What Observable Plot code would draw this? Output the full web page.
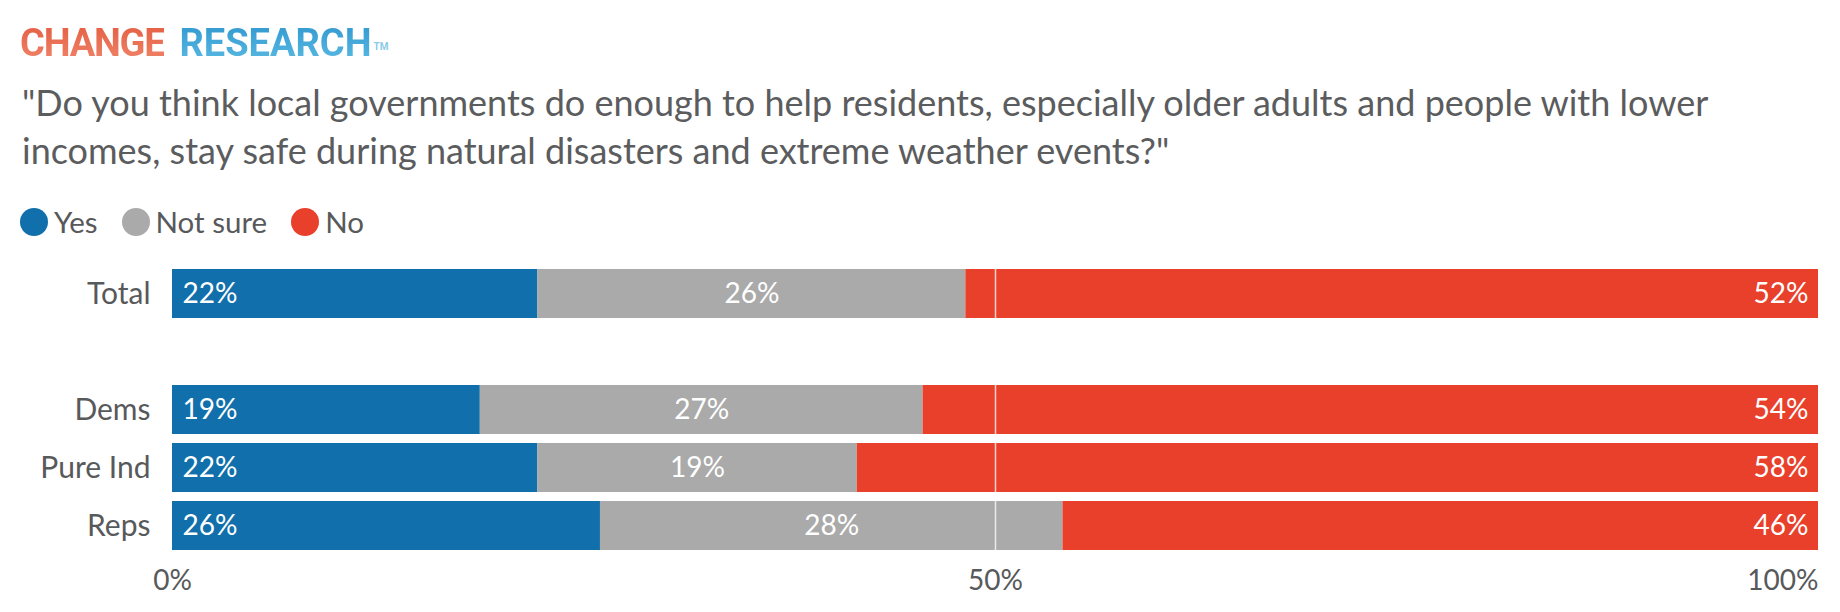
<!DOCTYPE html>
<html>
<head>
<meta charset="utf-8">
<script src="https://cdn.jsdelivr.net/npm/d3@7"></script>
<script src="https://cdn.jsdelivr.net/npm/@observablehq/plot@0.6"></script>
<style>
  html, body { margin: 0; padding: 0; background: #fff; }
  body { width: 1840px; height: 612px; position: relative; overflow: hidden; font-family: Lato, "Open Sans", sans-serif; color: #58595b; }
  #logo { position: absolute; left: 20px; top: 21px; font-family: Roboto, sans-serif; font-weight: 700; font-size: 38px; line-height: 44px; white-space: nowrap; }
  #logo .c { background: linear-gradient(#e45c40, #f0876c); -webkit-background-clip: text; background-clip: text; color: transparent; letter-spacing: -1.2px; }
  #logo .r { background: linear-gradient(#2f97cf, #5cbbe3); -webkit-background-clip: text; background-clip: text; color: transparent; margin-left: 15px; letter-spacing: 0px; }
  #logo sup { font-size: 10px; color: #8ccbe8; vertical-align: top; position: relative; top: 4px; left: 2px; letter-spacing: 0; }
  #title { position: absolute; left: 22px; top: 78px; font-size: 36px; line-height: 48px; color: #5b5c5e; }
  #legend { position: absolute; left: 20px; top: 205px; display: flex; align-items: center; font-size: 29.5px; line-height: 34px; }
  #legend .item { display: flex; align-items: center; margin-right: 24px; }
  #legend .sw { width: 28px; height: 28px; border-radius: 50%; margin-right: 6px; }
  #chart { position: absolute; left: 0; top: 250px; }
</style>
</head>
<body>
<div id="logo"><span class="c">CHANGE</span><span class="r">RESEARCH</span><sup>TM</sup></div>
<div id="title"></div>
<div id="legend"></div>
<div id="chart"></div>
<script>
const groups = ["Total", " ", "Dems", "Pure Ind", "Reps"];
const dataGroups = ["Total", "Dems", "Pure Ind", "Reps"];
const answers = ["Yes", "Not sure", "No"];
const colors = ["#116fab", "#aaaaaa", "#e9402b"];
// bar lengths
const yesValues = [22.2, 18.7, 22.2, 26.0];
const notSureValues = [26.0, 26.9, 19.4, 28.1];
const noValues = [51.8, 54.4, 58.4, 45.9];
// printed labels
const yesLabels = ["22%", "19%", "22%", "26%"];
const notSureLabels = ["26%", "27%", "19%", "28%"];
const noLabels = ["52%", "54%", "58%", "46%"];
const xTicks = [0, 50];
const xEndTick = [100];
const titleLines = [
  "\"Do you think local governments do enough to help residents, especially older adults and people with lower",
  "incomes, stay safe during natural disasters and extreme weather events?\""
];

document.getElementById("title").innerHTML = titleLines.map(s => s.replace(/&/g,"&amp;").replace(/</g,"&lt;")).join("<br>");
const legend = document.getElementById("legend");
answers.forEach((a, i) => {
  const it = document.createElement("div");
  it.className = "item";
  it.innerHTML = `<span class="sw" style="background:${colors[i]}"></span><span>${a}</span>`;
  legend.appendChild(it);
});

const data = [];
dataGroups.forEach((g, i) => {
  data.push({group: g, answer: "Yes", value: yesValues[i], label: yesLabels[i]});
  data.push({group: g, answer: "Not sure", value: notSureValues[i], label: notSureLabels[i]});
  data.push({group: g, answer: "No", value: noValues[i], label: noLabels[i]});
});

const stackOpts = {x: "value", y: "group", z: "answer", order: answers};
const pct = d => `${d}%`;

const chart = Plot.plot({
  width: 1840,
  height: 362,
  marginLeft: 172,
  marginRight: 22,
  marginTop: 10,
  marginBottom: 53,
  style: {fontFamily: "Lato, 'Open Sans', sans-serif", fontSize: "28px", color: "#58595b", background: "transparent"},
  x: {domain: [0, 100]},
  y: {domain: groups, padding: 0.15},
  color: {domain: answers, range: colors},
  marks: [
    Plot.barX(data, Plot.stackX({...stackOpts, fill: "answer"})),
    Plot.ruleX([50], {stroke: "#ffffff", strokeOpacity: 0.75, strokeWidth: 1.5}),
    Plot.text(data, Plot.stackX1({...stackOpts, text: d => d.answer === "Yes" ? d.label : null, textAnchor: "start", dx: 10, fill: "white", fontSize: 28})),
    Plot.text(data, Plot.stackX({...stackOpts, text: d => d.answer === "Not sure" ? d.label : null, textAnchor: "middle", fill: "white", fontSize: 28})),
    Plot.text(data, Plot.stackX2({...stackOpts, text: d => d.answer === "No" ? d.label : null, textAnchor: "end", dx: -10, fill: "white", fontSize: 28})),
    Plot.axisY({tickSize: 0, tickPadding: 22, fontSize: 30, fill: "#58595b", label: null}),
    Plot.axisX({ticks: xTicks, tickSize: 0, tickPadding: 11, tickFormat: pct, fontSize: 28, fill: "#58595b", label: null}),
    Plot.axisX({ticks: xEndTick, tickSize: 0, tickPadding: 11, tickFormat: pct, textAnchor: "end", fontSize: 28, fill: "#58595b", label: null})
  ]
});
document.getElementById("chart").appendChild(chart);
</script>
</body>
</html>
